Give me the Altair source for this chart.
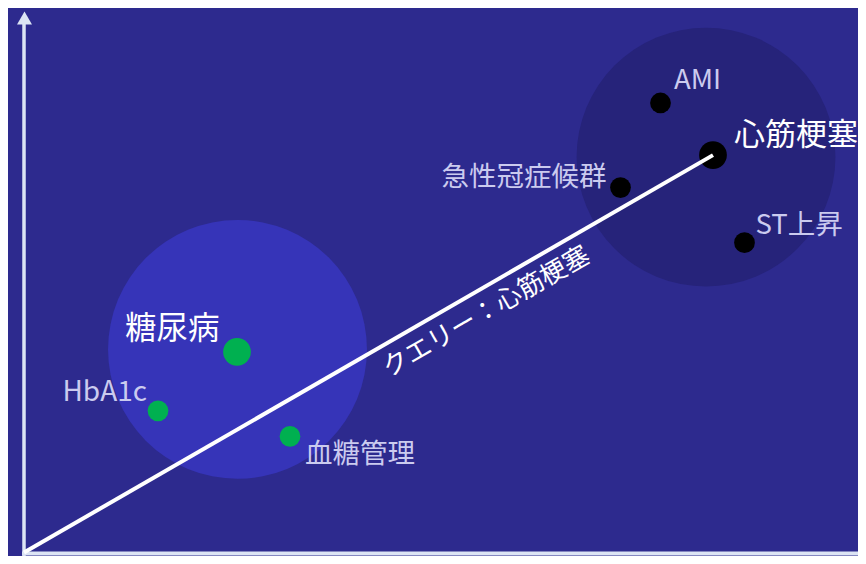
import math
import altair as alt
import pandas as pd

# ---- data (embedding coordinates, origin = axes corner) ----
terms = ["心筋梗塞", "AMI", "急性冠症候群", "ST上昇", "糖尿病", "HbA1c", "血糖管理"]
dim1 = [689, 636.5, 596.5, 720.5, 213, 134, 266]
dim2 = [404, 457, 371, 315, 204, 144, 118]
cluster = ["MI", "MI", "MI", "MI", "DM", "DM", "DM"]
role = ["center", "member", "member", "member", "center", "member", "member"]

cluster_names = ["DM", "MI"]
cluster_dim1 = [213.5, 682]
cluster_dim2 = [206.5, 402]

query_term = "心筋梗塞"
query_label = "クエリー：心筋梗塞"

FONT = "Noto Sans CJK JP"
BG = "#2d2a8e"
AXIS_C = "#dce4f4"
SMALL_C = "#cbcbef"

W, H = 850, 548
XD = [-16, 834]
YD = [-3.54, 553.56]
kx = W / (XD[1] - XD[0])
ky = H / (YD[1] - YD[0])
k = (kx + ky) / 2

pts = pd.DataFrame({"term": terms, "d1": dim1, "d2": dim2,
                    "cluster": cluster, "role": role})
clus = pd.DataFrame({"cluster": cluster_names, "d1": cluster_dim1, "d2": cluster_dim2})

xs = alt.Scale(domain=XD, nice=False, zero=False)
ys = alt.Scale(domain=YD, nice=False, zero=False)
X = lambda f="d1": alt.X(f"{f}:Q", scale=xs, axis=None)
Y = lambda f="d2": alt.Y(f"{f}:Q", scale=ys, axis=None)

# cluster regions
regions = alt.Chart(clus).mark_circle(opacity=1).encode(
    x=X(), y=Y(),
    color=alt.Color("cluster:N", scale=alt.Scale(domain=["DM", "MI"], range=["#3634b8", "#26237a"]), legend=None),
    size=alt.value((2 * 130.5 * k) ** 2),
)

# axes
yaxis = alt.Chart(pd.DataFrame({"x": [0], "y": [-4], "y2": [538]})).mark_rule(
    color=AXIS_C, strokeWidth=3.5).encode(x=alt.X("x:Q", scale=xs, axis=None),
                                          y=alt.Y("y:Q", scale=ys, axis=None), y2="y2:Q")
xaxis = alt.Chart(pd.DataFrame({"x": [-2], "x2": [850], "y": [-1]})).mark_rule(
    color=AXIS_C, strokeWidth=4).encode(x=alt.X("x:Q", scale=xs, axis=None), x2="x2:Q",
                                        y=alt.Y("y:Q", scale=ys, axis=None))
arrow = alt.Chart(pd.DataFrame({"x": [0.5], "y": [543.5]})).mark_point(
    shape="triangle-up", filled=True, size=225, opacity=1, color=AXIS_C, strokeWidth=0
).encode(x=alt.X("x:Q", scale=xs, axis=None), y=alt.Y("y:Q", scale=ys, axis=None))

pcolor = alt.Color("cluster:N", scale=alt.Scale(domain=["DM", "MI"], range=["#00b050", "#000000"]), legend=None)
centers = alt.Chart(pts).transform_filter(alt.datum.role == "center").mark_circle(opacity=1, size=770).encode(
    x=X(), y=Y(), color=pcolor)
others = alt.Chart(pts).transform_filter(alt.datum.role == "member").mark_circle(opacity=1, size=430).encode(
    x=X(), y=Y(), color=pcolor)

# query vector
qi = terms.index(query_term)
qline = alt.Chart(pd.DataFrame({"x": [0], "y": [0], "x2": [dim1[qi]], "y2": [dim2[qi]]})).mark_rule(
    color="white", strokeWidth=4).encode(
    x=alt.X("x:Q", scale=xs, axis=None), y=alt.Y("y:Q", scale=ys, axis=None), x2="x2:Q", y2="y2:Q")

ang = math.degrees(math.atan2(dim2[qi] * ky, dim1[qi] * kx))
qtext = alt.Chart(pd.DataFrame({"x": [dim1[qi] * 0.671], "y": [dim2[qi] * 0.605], "t": [query_label]})).mark_text(
    font=FONT, fontSize=26, color="white", angle=360 - ang, align="center", baseline="middle"
).encode(x=alt.X("x:Q", scale=xs, axis=None), y=alt.Y("y:Q", scale=ys, axis=None), text="t:N")

# term labels: (align, dx, dy, size, color)
label_style = {
    "心筋梗塞": ("left", 21, -10, 31, "white"),
    "AMI": ("left", 13.5, -14, 27.5, SMALL_C),
    "急性冠症候群": ("right", -14, -2, 27.5, SMALL_C),
    "ST上昇": ("left", 11, -9, 27.5, SMALL_C),
    "糖尿病": ("right", -17.5, -12.5, 31.5, "white"),
    "HbA1c": ("right", -11, -10, 28, SMALL_C),
    "血糖管理": ("left", 15, 27, 27.5, SMALL_C),
}
labels = []
for t in terms:
    a, dx, dy, fs, c = label_style[t]
    labels.append(
        alt.Chart(pts).transform_filter(alt.datum.term == t).mark_text(
            font=FONT, fontSize=fs, color=c, align=a, baseline="alphabetic", dx=dx, dy=dy
        ).encode(x=X(), y=Y(), text="term:N")
    )

chart = alt.layer(regions, yaxis, xaxis, arrow, centers, others, qline, qtext, *labels).resolve_scale(
    color="independent"
).properties(
    width=W, height=H, padding=0, background=BG,
    autosize=alt.AutoSizeParams(type="none"),
).configure_view(stroke=None)

chart.save("out.html", embed_options={"renderer": "svg", "actions": False})
